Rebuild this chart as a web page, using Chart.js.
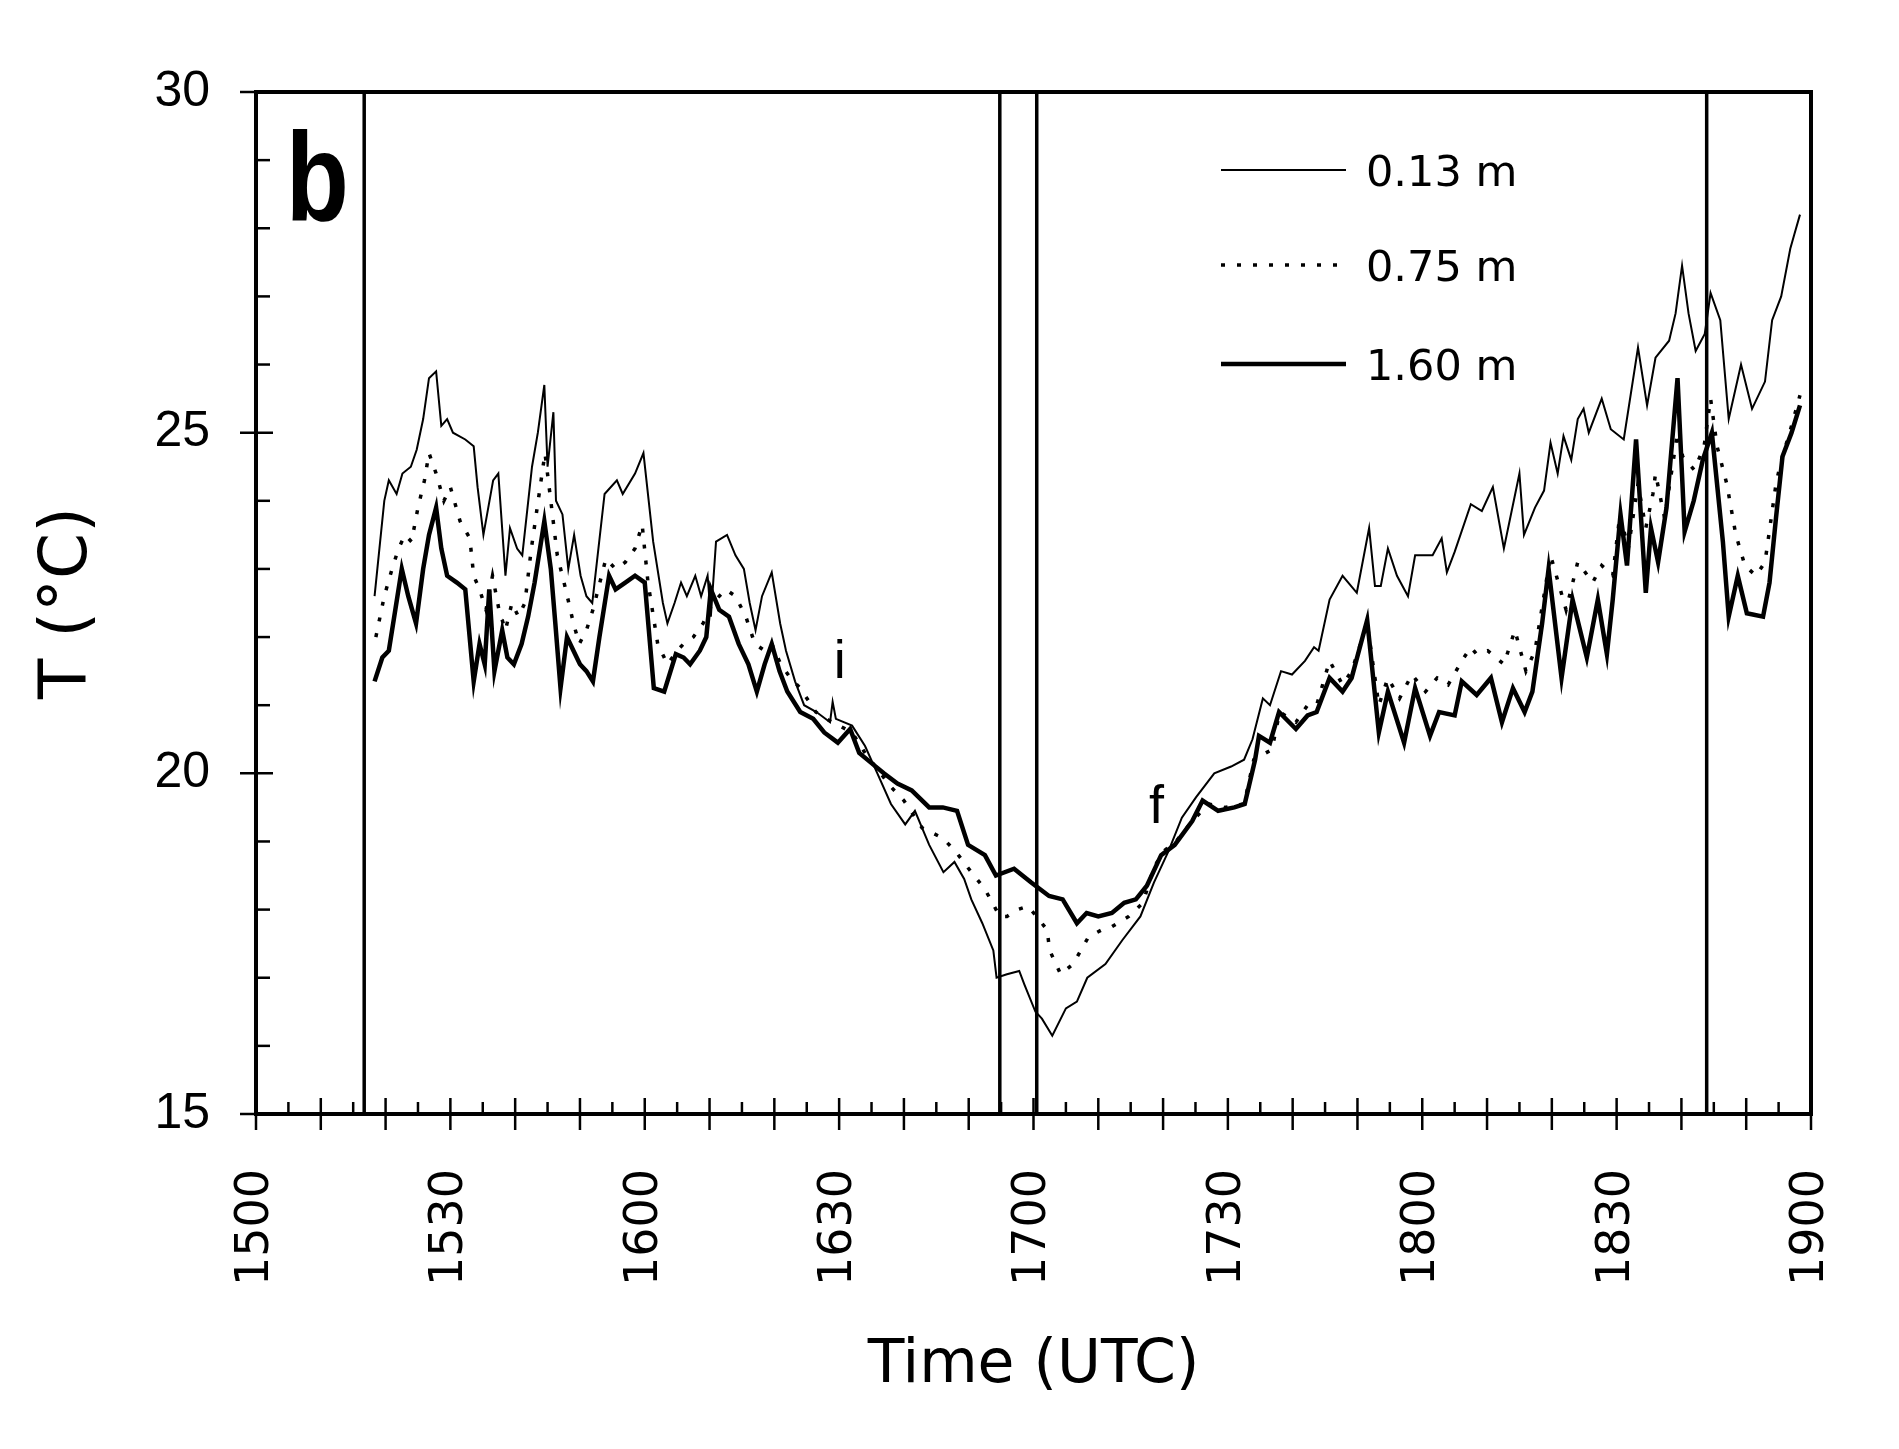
<!DOCTYPE html>
<html><head><meta charset="utf-8">
<script src="https://cdn.jsdelivr.net/npm/chart.js@4.4.1/dist/chart.umd.min.js"></script>
<style>html,body{margin:0;padding:0;background:#fff;} canvas{display:block;}</style>
</head><body>
<canvas id="c" width="1899" height="1449"></canvas>
<script>
// ---- data (time in minutes after 15:00 UTC, temperature in °C) ----
const tickLabels = ['1500','1530','1600','1630','1700','1730','1800','1830','1900'];
const seriesLabels = ['0.13 m','0.75 m','1.60 m'];

const time013 = [18.3,19.8,20.5,21.7,22.6,23.9,24.8,25.8,26.7,27.8,28.6,29.5,30.4,32.3,33.6,34.2,35.1,36.6,37.4,38.5,39.2,40.3,41.1,42.6,43.5,44.5,45.0,45.9,46.3,47.3,48.2,49.1,50.1,51.0,51.9,53.8,55.7,56.6,58.5,59.8,61.3,62.8,63.5,64.6,65.6,66.5,67.8,68.7,69.7,70.2,71.0,72.7,74.0,75.3,76.2,77.1,78.1,79.6,80.9,81.8,83.2,84.6,86.5,88.6,89.0,89.5,92.0,94.0,95.9,98.0,100.2,101.7,103.9,106.1,107.8,109.3,110.4,112.1,113.8,114.3,115.9,117.8,118.6,120.3,121.3,122.9,125.0,126.7,128.3,131.1,133.7,136.5,138.6,140.8,142.9,145.1,147.9,150.5,152.5,153.8,155.4,156.5,158.2,159.9,161.9,163.3,164.0,165.7,167.7,169.9,171.8,172.7,173.6,174.7,176.1,177.8,178.9,181.6,183.0,183.8,185.0,187.5,189.2,190.9,192.6,195.0,195.7,197.4,198.8,199.8,200.9,201.8,203.0,204.0,204.9,205.7,207.7,209.1,211.1,213.3,214.7,216.0,218.1,219.1,220.1,221.1,222.2,223.6,224.5,226.0,227.3,229.2,230.9,232.9,234.0,235.4,236.8,237.4,238.3];
const temp013 = [22.6,24.0,24.3,24.1,24.4,24.5,24.75,25.2,25.8,25.9,25.1,25.2,25.0,24.9,24.8,24.2,23.5,24.3,24.4,22.9,23.6,23.3,23.2,24.5,25.0,25.7,24.5,25.3,24.0,23.8,23.0,23.5,22.9,22.6,22.5,24.1,24.3,24.1,24.4,24.7,23.4,22.5,22.2,22.5,22.8,22.6,22.9,22.6,22.9,22.3,23.4,23.5,23.2,23.0,22.5,22.1,22.6,22.95,22.2,21.8,21.35,21.0,20.9,20.75,21.05,20.8,20.7,20.4,20.0,19.55,19.25,19.45,18.95,18.55,18.7,18.45,18.15,17.8,17.4,17.0,17.05,17.1,16.9,16.5,16.4,16.15,16.55,16.65,17.0,17.2,17.55,17.9,18.4,18.85,19.35,19.65,20.0,20.1,20.2,20.5,21.1,21.0,21.5,21.45,21.65,21.85,21.8,22.55,22.9,22.65,23.6,22.75,22.75,23.3,22.9,22.6,23.2,23.2,23.45,22.95,23.25,23.95,23.85,24.2,23.3,24.4,23.5,23.9,24.15,24.85,24.4,24.95,24.6,25.2,25.35,25.0,25.5,25.05,24.9,26.25,25.4,26.1,26.35,26.75,27.45,26.75,26.2,26.45,27.05,26.65,25.2,26.0,25.35,25.75,26.65,27.0,27.7,27.9,28.2];

const time075 = [18.5,19.8,21.0,22.0,23.0,24.0,25.0,26.0,26.7,27.8,29.0,30.0,31.5,33.0,33.6,34.5,35.5,36.5,37.5,38.5,39.5,40.5,41.5,42.5,43.7,44.6,45.5,46.5,47.8,49.0,49.9,51.0,52.0,54.0,55.5,57.0,58.5,59.6,60.5,62.0,63.5,65.0,66.0,67.5,69.0,70.5,72.5,74.0,75.6,77.0,78.5,79.6,81.0,82.5,84.0,86.4,88.0,90.0,92.0,94.0,96.0,98.0,100.0,102.8,106.0,108.0,110.0,112.5,114.8,115.9,117.5,119.1,120.5,122.1,122.5,124.2,126.1,128.5,130.5,132.1,134.7,136.9,138.5,140.0,142.0,144.5,147.0,149.5,152.5,154.0,156.8,158.0,160.5,162.3,163.7,165.7,167.7,169.1,171.5,173.3,174.7,176.5,178.4,180.5,182.3,184.0,186.1,187.5,188.4,190.1,192.6,194.3,196.0,197.4,199.8,202.2,204.0,206.3,207.7,209.4,210.5,211.8,213.3,214.5,215.6,216.0,217.4,219.4,220.2,222.0,223.5,224.5,225.5,227.0,228.4,229.8,231.5,232.9,233.2,234.6,235.3,237.0,238.3];
const temp075 = [22.0,22.6,23.0,23.3,23.5,23.4,23.9,24.3,24.7,24.4,24.0,24.2,23.7,23.45,22.9,22.7,22.4,22.9,22.4,22.1,22.5,22.3,22.5,23.3,24.1,24.7,24.0,23.2,22.7,22.2,21.9,22.1,22.4,23.15,23.0,23.1,23.3,23.65,22.8,21.9,21.6,21.8,21.9,22.0,22.2,22.5,22.7,22.6,22.3,21.9,21.8,21.9,21.6,21.4,21.25,20.9,20.8,20.7,20.6,20.3,20.05,19.8,19.6,19.2,19.05,18.85,18.6,18.3,17.9,17.9,18.0,18.05,17.9,17.7,17.4,17.05,17.2,17.6,17.7,17.75,17.9,18.1,18.6,18.85,19.0,19.3,19.55,19.5,19.55,20.2,20.35,20.9,20.75,21.0,21.0,21.65,21.3,21.5,22.2,21.0,21.4,21.1,21.45,21.2,21.4,21.3,21.65,21.85,21.75,21.8,21.6,22.1,21.5,21.8,23.2,22.4,23.1,22.8,23.05,22.9,23.8,23.3,24.25,23.6,24.1,24.4,23.75,25.0,24.65,24.45,24.8,25.5,24.8,24.25,23.5,23.05,22.9,23.1,23.3,24.25,24.55,25.1,25.55];

const time160 = [18.3,19.5,20.5,21.5,22.5,23.5,24.7,25.8,26.7,27.8,28.6,29.5,31.0,32.3,33.6,34.5,35.3,36.0,36.8,38.0,38.8,39.8,41.0,42.0,43.0,44.5,45.5,46.2,47.0,48.0,49.0,50.0,51.0,52.0,53.0,54.5,55.5,57.0,58.5,60.0,61.4,63.0,64.8,66.0,67.0,68.5,69.5,70.2,71.5,73.0,74.5,76.0,77.3,78.5,79.6,80.8,82.0,84.0,86.0,87.7,89.8,91.7,93.1,95.0,96.9,99.0,101.2,103.9,106.0,108.2,109.9,112.5,114.2,117.0,119.6,122.4,124.5,126.7,128.2,130.0,132.1,134.0,135.8,137.5,139.7,141.8,144.5,146.1,148.5,151.0,152.6,154.2,154.8,156.5,157.9,160.5,162.3,163.7,165.7,167.7,169.1,171.5,173.3,174.7,177.2,178.9,181.2,182.6,185.0,186.1,188.4,190.6,192.3,194.0,195.8,197.0,198.5,199.5,201.5,203.2,205.4,207.1,208.5,209.4,210.6,211.6,213.0,214.5,215.3,216.4,217.7,219.4,220.5,221.9,223.3,224.7,226.4,227.3,228.7,230.1,232.6,233.6,234.6,235.6,237.0,238.3];
const temp160 = [21.35,21.7,21.8,22.4,23.0,22.6,22.2,23.0,23.5,23.9,23.3,22.9,22.8,22.7,21.35,21.9,21.6,22.7,21.5,22.1,21.7,21.6,21.9,22.3,22.8,23.7,23.0,22.2,21.25,22.0,21.8,21.6,21.5,21.35,22.0,22.9,22.7,22.8,22.9,22.8,21.25,21.2,21.75,21.7,21.6,21.8,22.0,22.7,22.4,22.3,21.9,21.6,21.2,21.6,21.9,21.5,21.2,20.9,20.8,20.6,20.45,20.65,20.3,20.15,20.0,19.85,19.75,19.5,19.5,19.45,18.95,18.8,18.5,18.6,18.4,18.2,18.15,17.8,17.95,17.9,17.95,18.1,18.15,18.35,18.8,18.95,19.3,19.6,19.45,19.5,19.55,20.2,20.55,20.45,20.9,20.65,20.85,20.9,21.4,21.2,21.4,22.25,20.6,21.2,20.45,21.25,20.55,20.9,20.85,21.35,21.15,21.4,20.75,21.25,20.9,21.2,22.2,23.0,21.4,22.55,21.7,22.55,21.75,22.55,23.8,23.05,24.9,22.65,23.6,23.1,23.9,25.8,23.55,24.0,24.6,25.0,23.4,22.3,22.9,22.35,22.3,22.8,23.75,24.65,25.0,25.4];

// vertical marker lines (minutes after 15:00)
const markerTimes = [16.7, 114.8, 120.5, 223.9];

function pts(t, v) { return t.map((x, i) => ({x: x, y: v[i]})); }

const decor = {
  id: 'decor',
  afterDatasetsDraw(chart) {
    const {ctx, chartArea: a, scales: {x, y}} = chart;
    ctx.save();
    ctx.strokeStyle = '#000';
    ctx.fillStyle = '#000';
    ctx.lineCap = 'butt';
    // marker lines
    ctx.lineWidth = 3.5;
    markerTimes.forEach(t => {
      const px = x.getPixelForValue(t);
      ctx.beginPath(); ctx.moveTo(px, a.top); ctx.lineTo(px, a.bottom); ctx.stroke();
    });
    // frame
    ctx.lineWidth = 4;
    ctx.strokeRect(a.left, a.top, a.right - a.left, a.bottom - a.top);
    // x ticks
    ctx.lineWidth = 2.5;
    for (let m = 0; m <= 240; m += 5) {
      const px = x.getPixelForValue(m);
      const major = m % 10 === 0;
      ctx.beginPath();
      ctx.moveTo(px, a.bottom - (major ? 16 : 12));
      ctx.lineTo(px, major ? a.bottom + 16 : a.bottom);
      ctx.stroke();
    }
    // y ticks
    for (let v = 15; v <= 30; v += 1) {
      const py = y.getPixelForValue(v);
      const major = v % 5 === 0;
      ctx.beginPath();
      ctx.moveTo(major ? a.left - 16 : a.left, py);
      ctx.lineTo(a.left + (major ? 17 : 14), py);
      ctx.stroke();
    }
    // panel letter
    ctx.save();
    ctx.font = 'bold 126px "Liberation Sans", Arial, sans-serif';
    ctx.textBaseline = 'alphabetic';
    ctx.textAlign = 'left';
    ctx.translate(x.getPixelForValue(4.6), y.getPixelForValue(28.1));
    ctx.scale(0.82, 1);
    ctx.fillText('b', 0, 0);
    ctx.restore();
    // i / f markers
    ctx.font = '54px "Liberation Sans", Arial, sans-serif';
    ctx.textAlign = 'center';
    ctx.textBaseline = 'alphabetic';
    ctx.fillText('i', x.getPixelForValue(90.1), y.getPixelForValue(21.4));
    ctx.fillText('f', x.getPixelForValue(139.0), y.getPixelForValue(19.27));
    // legend
    const rows = [170, 265, 364];
    chart.data.datasets.forEach((ds, i) => {
      const ly = rows[i];
      ctx.save();
      ctx.lineWidth = ds.borderWidth;
      ctx.setLineDash(ds.borderDash || []);
      ctx.beginPath(); ctx.moveTo(1221, ly); ctx.lineTo(1346, ly); ctx.stroke();
      ctx.restore();
      ctx.font = '43px "DejaVu Sans", sans-serif';
      ctx.textAlign = 'left';
      ctx.textBaseline = 'middle';
      ctx.fillText(ds.label, 1366, ly + 5);
    });
    ctx.restore();
  }
};

new Chart(document.getElementById('c'), {
  type: 'line',
  data: {
    datasets: [
      {label: seriesLabels[0], data: pts(time013, temp013), borderColor: '#000', borderWidth: 2, pointRadius: 0, tension: 0, fill: false},
      {label: seriesLabels[1], data: pts(time075, temp075), borderColor: '#000', borderWidth: 3.5, borderDash: [4, 12], pointRadius: 0, tension: 0, fill: false},
      {label: seriesLabels[2], data: pts(time160, temp160), borderColor: '#000', borderWidth: 4.5, pointRadius: 0, tension: 0, fill: false}
    ]
  },
  options: {
    responsive: false,
    devicePixelRatio: 1,
    animation: false,
    layout: {padding: {left: 0, top: 92, right: 88, bottom: 0}},
    plugins: {legend: {display: false}, tooltip: {enabled: false}},
    scales: {
      x: {
        type: 'linear', min: 0, max: 240,
        grid: {display: false, drawTicks: false},
        border: {display: false},
        ticks: {
          stepSize: 30, autoSkip: false, minRotation: 90, maxRotation: 90, padding: 55,
          color: '#000', font: {family: '"DejaVu Sans", sans-serif', size: 46},
          callback: (v) => tickLabels[Math.round(v / 30)]
        },
        title: {display: true, text: 'Time (UTC)', color: '#000', font: {family: '"DejaVu Sans", sans-serif', size: 60}, padding: {top: 0, bottom: 47}},
        afterFit: (s) => { s.height = 335; s.paddingLeft = 0; s.paddingRight = 0; }
      },
      y: {
        type: 'linear', min: 15, max: 30,
        grid: {display: false, drawTicks: false},
        border: {display: false},
        ticks: {stepSize: 5, padding: 46, color: '#000', font: {family: '"Liberation Sans", Arial, sans-serif', size: 50}},
        title: {display: true, text: 'T (°C)', color: '#000', font: {family: '"DejaVu Sans", sans-serif', size: 66}, padding: {top: 29, bottom: 0}},
        afterFit: (s) => { s.width = 256; }
      }
    }
  },
  plugins: [decor]
});
</script>
</body></html>
